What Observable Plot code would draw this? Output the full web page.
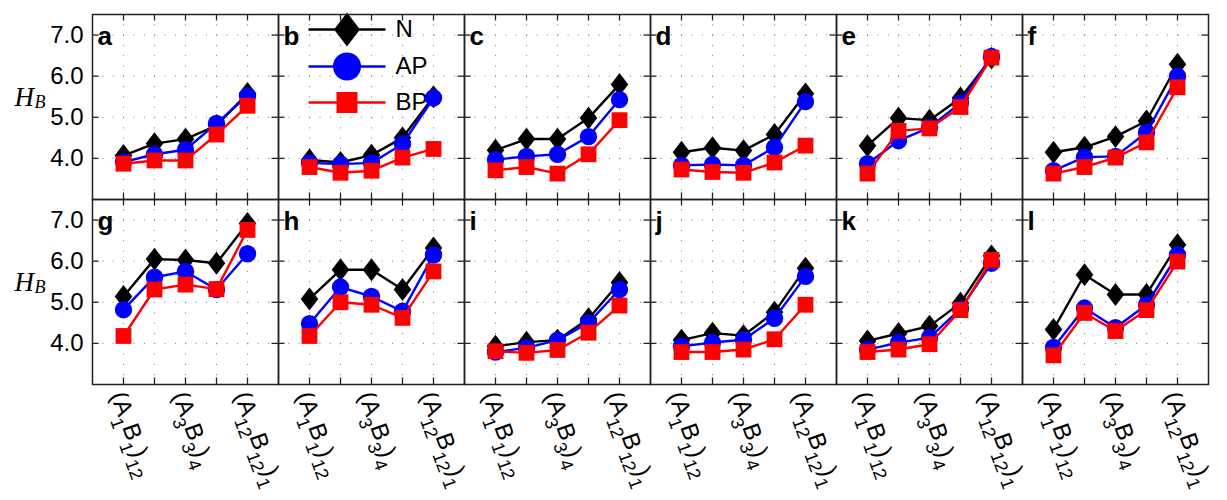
<!DOCTYPE html>
<html><head><meta charset="utf-8">
<script src="https://cdn.jsdelivr.net/npm/d3@7"></script>
<script src="https://cdn.jsdelivr.net/npm/@observablehq/plot@0.6"></script>
<style>
html,body{margin:0;padding:0;background:#fff;}
#chart{width:1227px;height:500px;}
</style></head><body><div id="chart"></div>
<script>
// ---------- data ----------
const panels = ["a","b","c","d","e","f","g","h","i","j","k","l"];
const seriesNames = ["N","AP","BP"];
const xPositions = [1,2,3,4,5];
const xTickPositions = [1,3,5];
const xTickLabels = ["(A_1B_1)_12","(A_3B_3)_4","(A_12B_12)_1"];
const yTicks = [4,5,6,7];
const yTickLabels = ["4.0","5.0","6.0","7.0"];
const valuesN = [
 [4.07,4.36,4.47,4.80,5.58], // a
 [3.96,3.90,4.08,4.50,5.50], // b
 [4.20,4.47,4.47,4.98,5.80], // c
 [4.15,4.26,4.19,4.58,5.57], // d
 [4.31,4.98,4.93,5.47,6.44], // e
 [4.15,4.27,4.53,4.91,6.29], // f
 [5.14,6.05,6.03,5.95,6.92], // g
 [5.08,5.79,5.79,5.31,6.32], // h
 [3.93,4.03,4.08,4.60,5.48], // i
 [4.08,4.25,4.19,4.76,5.83], // j
 [4.06,4.24,4.42,4.98,6.13], // k
 [4.34,5.67,5.19,5.19,6.40]  // l
];
const valuesAP = [
 [3.91,4.10,4.21,4.85,5.52],
 [3.89,3.86,3.89,4.35,5.47],
 [3.97,4.05,4.10,4.53,5.43],
 [3.83,3.85,3.83,4.27,5.38],
 [3.87,4.43,4.75,5.35,6.48],
 [3.70,4.03,4.05,4.63,6.00],
 [4.82,5.61,5.75,5.31,6.18],
 [4.48,5.37,5.14,4.78,6.15],
 [3.79,3.89,4.08,4.50,5.31],
 [3.93,4.02,4.09,4.61,5.63],
 [3.85,4.02,4.14,4.84,5.95],
 [3.90,4.86,4.38,4.94,6.15]
];
const valuesBP = [
 [3.87,3.95,3.95,4.58,5.28],
 [3.79,3.65,3.70,4.02,4.23],
 [3.71,3.79,3.63,4.10,4.93],
 [3.73,3.67,3.65,3.90,4.31],
 [3.63,4.67,4.73,5.25,6.45],
 [3.63,3.79,4.02,4.39,5.73],
 [4.18,5.31,5.43,5.32,6.76],
 [4.18,5.00,4.94,4.62,5.75],
 [3.81,3.77,3.84,4.26,4.92],
 [3.79,3.79,3.85,4.10,4.94],
 [3.79,3.85,3.98,4.81,6.03],
 [3.71,4.74,4.30,4.81,5.99]
];
const seriesValues = {N: valuesN, AP: valuesAP, BP: valuesBP};
const seriesColors = {N: "#000000", AP: "#0000ff", BP: "#ff0000"};

// ---------- layout / style ----------
const W = 1227, H = 500, mL = 90, mR = 18, mT = 13, mB = 116;
const nCols = 6, nRows = 2;
const facetW = (W - mL - mR) / nCols, facetH = (H - mT - mB) / nRows;
const tickLen = 7;
const font = "'Liberation Sans', Arial, Helvetica, sans-serif";
const serif = "'Liberation Serif', 'Times New Roman', serif";
const axisColor = "#222";

// custom symbols
const diamondSym = {draw(ctx, size) { const r = Math.sqrt(size / Math.PI), h = r * 1.3;
  ctx.moveTo(0, -h); ctx.lineTo(r, 0); ctx.lineTo(0, h); ctx.lineTo(-r, 0); ctx.closePath(); }};
const squareSym = {draw(ctx, size) { const r = Math.sqrt(size / Math.PI);
  ctx.rect(-r, -r, 2 * r, 2 * r); }};
const circleSym = {draw(ctx, size) { const r = Math.sqrt(size / Math.PI);
  ctx.moveTo(r, 0); ctx.arc(0, 0, r, 0, 2 * Math.PI); ctx.closePath(); }};
const lineSym = {draw(ctx, size) { const r = Math.sqrt(size / Math.PI);
  ctx.moveTo(-r, 0); ctx.lineTo(r, 0); }};
const seriesSymbols = {N: diamondSym, AP: circleSym, BP: squareSym};
const dataR = {N: 8.8, AP: 8.7, BP: 7.9};
const legendR = {N: 13, AP: 14, BP: 10.5};

// ---------- tidy tables ----------
const panelData = panels.map((p, i) => ({letter: p, col: i % nCols, row: Math.floor(i / nCols)}));
const tidy = [];
panels.forEach((p, i) => {
  seriesNames.forEach(s => {
    xPositions.forEach((x, j) => {
      tidy.push({panel: p, col: i % nCols, row: Math.floor(i / nCols), series: s, x, y: seriesValues[s][i][j]});
    });
  });
});
const leftPanels = panelData.filter(d => d.col === 0);
const yLabelData = [];
leftPanels.forEach(p => yTicks.forEach((v, k) => yLabelData.push({col: p.col, row: p.row, v, label: yTickLabels[k]})));
const bottomPanels = panelData.filter(d => d.row === nRows - 1);
const xLabelData = [];
bottomPanels.forEach(p => xTickPositions.forEach((v, k) => xLabelData.push({col: p.col, row: p.row, x: v, label: xTickLabels[k]})));
const legendPanel = panelData.filter(d => d.letter === "b");

// ---------- marks ----------
const marks = [];
// dotted grid
marks.push(Plot.ruleY(yTicks, {y: d => d, stroke: "#777", strokeWidth: 1, strokeDasharray: `1,${facetW / 18 - 1}`}));
marks.push(Plot.ruleX(xPositions, {x: d => d, stroke: "#777", strokeWidth: 1, strokeDasharray: `1,${facetH / 18 - 1}`}));
// inward ticks on all four sides
marks.push(Plot.tickY(yTicks, {y: d => d, insetRight: facetW - tickLen, stroke: axisColor, strokeWidth: 1.3}));
marks.push(Plot.tickY(yTicks, {y: d => d, insetLeft: facetW - tickLen, stroke: axisColor, strokeWidth: 1.3}));
marks.push(Plot.tickX(xPositions, {x: d => d, insetBottom: facetH - tickLen, stroke: axisColor, strokeWidth: 1.3}));
marks.push(Plot.tickX(xPositions, {x: d => d, insetTop: facetH - tickLen, stroke: axisColor, strokeWidth: 1.3}));

// legend (panel b)
const legendDy = {N: 15, AP: 52, BP: 88};
seriesNames.forEach(s => {
  marks.push(Plot.dot(legendPanel, {fx: "col", fy: "row", frameAnchor: "top-left", dx: 68.5, dy: legendDy[s],
    symbol: lineSym, r: 38.5, fill: "none", stroke: seriesColors[s], strokeWidth: 2.3}));
  marks.push(Plot.dot(legendPanel, {fx: "col", fy: "row", frameAnchor: "top-left", dx: 68.5, dy: legendDy[s],
    symbol: seriesSymbols[s], r: legendR[s], fill: seriesColors[s], stroke: "none"}));
  marks.push(Plot.text(legendPanel, {fx: "col", fy: "row", frameAnchor: "top-left", dx: 117, dy: legendDy[s],
    text: () => s, textAnchor: "start", lineAnchor: "middle", fontSize: 24, fontFamily: font, fill: "black"}));
});

// series
seriesNames.forEach(s => {
  const d = tidy.filter(t => t.series === s);
  marks.push(Plot.line(d, {x: "x", y: "y", fx: "col", fy: "row", stroke: seriesColors[s], strokeWidth: 2.4}));
  marks.push(Plot.dot(d, {x: "x", y: "y", fx: "col", fy: "row", symbol: seriesSymbols[s], r: dataR[s],
    fill: seriesColors[s], stroke: "none"}));
});

// frame
marks.push(Plot.frame({stroke: axisColor, strokeWidth: 1.5}));

// panel letters
marks.push(Plot.text(panelData, {fx: "col", fy: "row", text: "letter", frameAnchor: "top-left", dx: 5, dy: 12,
  lineAnchor: "top", textAnchor: "start", fontWeight: "bold", fontSize: 26, fontFamily: font, fill: "black"}));

// y tick labels
marks.push(Plot.text(yLabelData, {fx: "col", fy: "row", y: "v", text: "label", frameAnchor: "left", dx: -9,
  textAnchor: "end", lineAnchor: "middle", fontSize: 24, fontFamily: font, fill: "black"}));

// H_B label
marks.push(Plot.text(leftPanels, {fx: "col", fy: "row", text: () => "H", frameAnchor: "left", dx: -78, dy: -1,
  textAnchor: "start", lineAnchor: "bottom", fontSize: 27, fontStyle: "italic", fontFamily: serif, fill: "black"}));
marks.push(Plot.text(leftPanels, {fx: "col", fy: "row", text: () => "B", frameAnchor: "left", dx: -58, dy: 1,
  textAnchor: "start", lineAnchor: "bottom", fontSize: 18, fontStyle: "italic", fontFamily: serif, fill: "black"}));

// x tick labels (rotated)
marks.push(Plot.text(xLabelData, {fx: "col", fy: "row", x: "x", text: "label", frameAnchor: "bottom",
  rotate: 70, textAnchor: "start", lineAnchor: "middle", dx: -6, dy: 8, fontSize: 24, fontFamily: font,
  fill: "black", className: "xlab"}));

const chart = Plot.plot({
  width: W, height: H,
  marginLeft: mL, marginRight: mR, marginTop: mT, marginBottom: mB,
  x: {domain: [0, 6], axis: null},
  y: {domain: [3, 7.5], axis: null},
  fx: {domain: d3.range(nCols), padding: 0, axis: null},
  fy: {domain: d3.range(nRows), padding: 0, axis: null},
  style: {fontFamily: font, color: "black", background: "white", overflow: "visible"},
  marks
});

// subscripts in x tick labels
const ns = "http://www.w3.org/2000/svg";
chart.querySelectorAll("g.xlab text").forEach(t => {
  const s = t.textContent;
  t.textContent = "";
  const parts = s.split(/_(\d+)/);
  parts.forEach((p, i) => {
    if (p === "") return;
    const ts = document.createElementNS(ns, "tspan");
    ts.textContent = p;
    if (i % 2 === 1) { ts.setAttribute("font-size", "18"); ts.setAttribute("dy", "9"); }
    else if (i > 0) { ts.setAttribute("dy", "-9"); }
    t.appendChild(ts);
  });
});
document.getElementById("chart").appendChild(chart);
</script>
</body></html>
